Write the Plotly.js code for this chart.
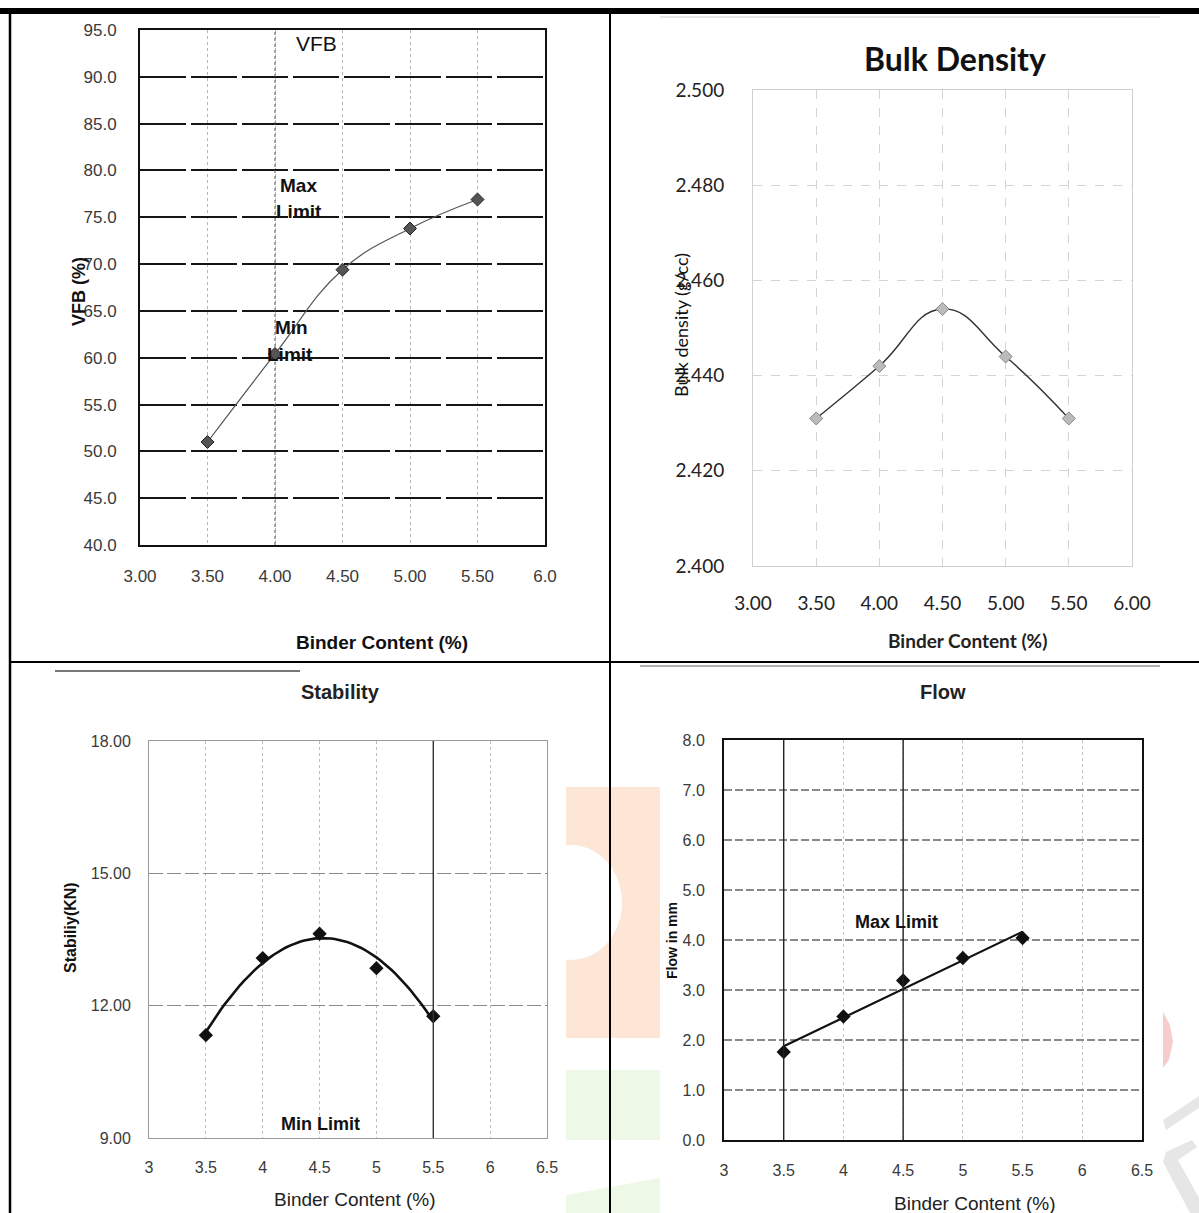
<!DOCTYPE html>
<html>
<head>
<meta charset="utf-8">
<script src="https://cdn.plot.ly/plotly-3.0.1.min.js"></script>
<style>
  html, body { margin: 0; padding: 0; background: #ffffff; }
  #chart { width: 1199px; height: 1213px; }
</style>
</head>
<body>
<div id="chart"></div>
<script>
// ---------------- data ----------------
const binderContent = [3.5, 4.0, 4.5, 5.0, 5.5];
const vfbValues = [51.0, 60.4, 69.4, 73.8, 76.9];
const bulkDensityValues = [2.431, 2.442, 2.454, 2.444, 2.431];
const stabilityValues = [11.33, 13.08, 13.63, 12.85, 11.76];
const flowValues = [1.76, 2.47, 3.19, 3.64, 4.04];

const vfbXTicks = [3.0, 3.5, 4.0, 4.5, 5.0, 5.5, 6.0];
const vfbXTickText = ["3.00", "3.50", "4.00", "4.50", "5.00", "5.50", "6.0"];
const bulkXTicks = [3.0, 3.5, 4.0, 4.5, 5.0, 5.5, 6.0];
const halfStepTicks = [3, 3.5, 4, 4.5, 5, 5.5, 6, 6.5];

// ---------------- helpers ----------------
const W = 1199, H = 1213;
const PX = p => p / W;
const PY = p => 1 - p / H;

// least-squares polynomial fit (Excel-style trendline from the data points)
function polyfit(xs, ys, deg) {
  const n = deg + 1;
  const A = Array.from({length: n}, () => new Array(n + 1).fill(0));
  for (let i = 0; i < xs.length; i++) {
    for (let r = 0; r < n; r++) {
      for (let c = 0; c < n; c++) A[r][c] += Math.pow(xs[i], r + c);
      A[r][n] += ys[i] * Math.pow(xs[i], r);
    }
  }
  for (let col = 0; col < n; col++) {
    let piv = col;
    for (let r = col + 1; r < n; r++) if (Math.abs(A[r][col]) > Math.abs(A[piv][col])) piv = r;
    [A[col], A[piv]] = [A[piv], A[col]];
    for (let r = 0; r < n; r++) {
      if (r === col) continue;
      const f = A[r][col] / A[col][col];
      for (let c = col; c <= n; c++) A[r][c] -= f * A[col][c];
    }
  }
  return A.map((row, i) => row[n] / row[i]);
}
function trend(xs, ys, deg, steps) {
  const coef = polyfit(xs, ys, deg);
  const x0 = Math.min(...xs), x1 = Math.max(...xs);
  const tx = [], ty = [];
  for (let i = 0; i <= steps; i++) {
    const x = x0 + (x1 - x0) * i / steps;
    tx.push(x);
    ty.push(coef.reduce((s, c, k) => s + c * Math.pow(x, k), 0));
  }
  return {x: tx, y: ty};
}

const ARIAL = "Liberation Sans, Arial, sans-serif";
const CALIBRI = "Lato, Open Sans, sans-serif";

const stabTrend = trend(binderContent, stabilityValues, 2, 60);
const flowTrend = trend(binderContent, flowValues, 1, 2);

// ---------------- traces ----------------
const traces = [
  { // VFB
    x: binderContent, y: vfbValues, xaxis: 'x', yaxis: 'y',
    type: 'scatter', mode: 'lines+markers',
    line: {shape: 'spline', smoothing: 1.2, color: '#555', width: 1.2},
    marker: {symbol: 'diamond', size: 10, color: '#555', line: {color: '#222', width: 1}},
    hoverinfo: 'skip', showlegend: false
  },
  { // Bulk density
    x: binderContent, y: bulkDensityValues, xaxis: 'x2', yaxis: 'y2',
    type: 'scatter', mode: 'lines+markers',
    line: {shape: 'spline', smoothing: 1.3, color: '#333', width: 1.4},
    marker: {symbol: 'diamond', size: 10, color: '#bbb', line: {color: '#888', width: 1}},
    hoverinfo: 'skip', showlegend: false
  },
  { // Stability trendline
    x: stabTrend.x, y: stabTrend.y, xaxis: 'x3', yaxis: 'y3',
    type: 'scatter', mode: 'lines',
    line: {color: '#111', width: 2.6}, hoverinfo: 'skip', showlegend: false
  },
  { // Stability points
    x: binderContent, y: stabilityValues, xaxis: 'x3', yaxis: 'y3',
    type: 'scatter', mode: 'markers',
    marker: {symbol: 'diamond', size: 11, color: '#111'},
    hoverinfo: 'skip', showlegend: false
  },
  { // Flow trendline
    x: flowTrend.x, y: flowTrend.y, xaxis: 'x4', yaxis: 'y4',
    type: 'scatter', mode: 'lines',
    line: {color: '#111', width: 2.2}, hoverinfo: 'skip', showlegend: false
  },
  { // Flow points
    x: binderContent, y: flowValues, xaxis: 'x4', yaxis: 'y4',
    type: 'scatter', mode: 'markers',
    marker: {symbol: 'diamond', size: 11, color: '#111'},
    hoverinfo: 'skip', showlegend: false
  }
];

// ---------------- axes ----------------
function ax(opts) {
  return Object.assign({
    showgrid: true, zeroline: false, ticks: '', fixedrange: true,
    showline: true, mirror: true, automargin: false
  }, opts);
}

const layout = {
  width: W, height: H,
  margin: {l: 0, r: 0, t: 0, b: 0},
  paper_bgcolor: '#ffffff', plot_bgcolor: 'rgba(0,0,0,0)',
  showlegend: false,
  // VFB
  xaxis: ax({domain: [PX(140), PX(545)], anchor: 'y', range: [3, 6],
    tickvals: vfbXTicks, ticktext: vfbXTickText,
    gridcolor: '#b5b5b5', griddash: 'dot', gridwidth: 1,
    linecolor: '#111', linewidth: 2,
    tickfont: {family: ARIAL, size: 17, color: '#3a3a3a'}, ticklabelstandoff: 15}),
  yaxis: ax({domain: [PY(545), PY(30)], anchor: 'x', range: [40, 95], dtick: 5, tick0: 40,
    tickformat: '.1f',
    gridcolor: '#151515', griddash: '46px,5px', gridwidth: 2,
    linecolor: '#111', linewidth: 2,
    tickfont: {family: ARIAL, size: 17, color: '#3a3a3a'}, ticklabelstandoff: 18}),
  // Bulk density
  xaxis2: ax({domain: [PX(753), PX(1132)], anchor: 'y2', range: [3, 6],
    tickvals: bulkXTicks, tickformat: '.2f',
    gridcolor: '#d4d4d4', griddash: 'dash', gridwidth: 1,
    linecolor: '#d0d0d0', linewidth: 1,
    tickfont: {family: CALIBRI, size: 19, color: '#222'}, ticklabelstandoff: 20}),
  yaxis2: ax({domain: [PY(566), PY(90)], anchor: 'x2', range: [2.4, 2.5], dtick: 0.02, tick0: 2.4,
    tickformat: '.3f',
    gridcolor: '#d4d4d4', griddash: 'dash', gridwidth: 1,
    linecolor: '#d0d0d0', linewidth: 1,
    tickfont: {family: CALIBRI, size: 19, color: '#222'}, ticklabelstandoff: 24}),
  // Stability
  xaxis3: ax({domain: [PX(149), PX(547)], anchor: 'y3', range: [3, 6.5],
    tickvals: halfStepTicks,
    gridcolor: '#bdbdbd', griddash: 'dot', gridwidth: 1,
    linecolor: '#9a9a9a', linewidth: 1,
    tickfont: {family: ARIAL, size: 16, color: '#3a3a3a'}, ticklabelstandoff: 15}),
  yaxis3: ax({domain: [PY(1138), PY(741)], anchor: 'x3', range: [9, 18], dtick: 3, tick0: 9,
    tickformat: '.2f',
    gridcolor: '#8a8a8a', griddash: '14px,4px', gridwidth: 1.3,
    linecolor: '#9a9a9a', linewidth: 1,
    tickfont: {family: ARIAL, size: 16, color: '#3a3a3a'}, ticklabelstandoff: 14}),
  // Flow
  xaxis4: ax({domain: [PX(724), PX(1142)], anchor: 'y4', range: [3, 6.5],
    tickvals: halfStepTicks,
    gridcolor: '#c4c4c4', griddash: 'dot', gridwidth: 1,
    linecolor: '#111', linewidth: 2,
    tickfont: {family: ARIAL, size: 16, color: '#3a3a3a'}, ticklabelstandoff: 15}),
  yaxis4: ax({domain: [PY(1140), PY(740)], anchor: 'x4', range: [0, 8], dtick: 1, tick0: 0,
    tickformat: '.1f',
    gridcolor: '#8a8a8a', griddash: '8px,3px', gridwidth: 1.2,
    linecolor: '#111', linewidth: 2,
    tickfont: {family: ARIAL, size: 16, color: '#3a3a3a'}, ticklabelstandoff: 14}),
  shapes: [],
  annotations: []
};

// darker vertical gridlines present in the scans
layout.shapes.push(
  {type: 'line', xref: 'x', yref: 'y', x0: 4.0, x1: 4.0, y0: 40, y1: 95, line: {color: '#555', width: 1, dash: 'dot'}},
  {type: 'line', xref: 'x3', yref: 'y3', x0: 5.5, x1: 5.5, y0: 9, y1: 18, line: {color: '#333', width: 1.4}},
  {type: 'line', xref: 'x4', yref: 'y4', x0: 3.5, x1: 3.5, y0: 0, y1: 8, line: {color: '#222', width: 1.4}},
  {type: 'line', xref: 'x4', yref: 'y4', x0: 4.5, x1: 4.5, y0: 0, y1: 8, line: {color: '#222', width: 1.4}}
);

// page/table frame
function pline(x0, y0, x1, y1, w, c) {
  return {type: 'line', xref: 'paper', yref: 'paper', x0: PX(x0), x1: PX(x1), y0: PY(y0), y1: PY(y1),
          line: {color: c || '#000', width: w}};
}
function prect(x0, y0, x1, y1, fill) {
  return {type: 'rect', xref: 'paper', yref: 'paper', x0: PX(x0), x1: PX(x1), y0: PY(y1), y1: PY(y0),
          fillcolor: fill, line: {width: 0}, layer: 'below'};
}
function ppath(pts, fill) {
  const d = pts.map((p, i) => (i ? 'L' : 'M') + PX(p[0]).toFixed(5) + ',' + PY(p[1]).toFixed(5)).join(' ') + ' Z';
  return {type: 'path', xref: 'paper', yref: 'paper', path: d, fillcolor: fill, line: {width: 0}, layer: 'below'};
}

// watermark traces (faint)
layout.shapes.push(
  prect(566, 787, 660, 1038, '#fde6d6'),
  {type: 'circle', xref: 'paper', yref: 'paper', x0: PX(520), x1: PX(622), y0: PY(960), y1: PY(845),
   fillcolor: '#ffffff', line: {width: 0}, layer: 'below'},
  prect(566, 1070, 660, 1140, '#eef8e6'),
  ppath([[566, 1195], [660, 1178], [660, 1213], [566, 1213]], '#eef8e6'),
  ppath([[1163, 1012], [1170, 1025], [1173, 1042], [1169, 1060], [1163, 1068]], '#f6cccc'),
  ppath([[1163, 1120], [1199, 1096], [1199, 1108], [1166, 1130]], '#e6e6e6'),
  ppath([[1166, 1152], [1192, 1140], [1197, 1147], [1178, 1160], [1199, 1198], [1199, 1213], [1190, 1213], [1163, 1162]], '#e6e6e6')
);

layout.shapes.push(
  prect(0, 8, 1199, 14, '#000'),
  pline(10, 14, 10, 1213, 2.5),
  pline(610, 14, 610, 1213, 2),
  pline(10, 662, 1199, 662, 2),
  pline(55, 671, 300, 671, 2, '#777'),
  pline(640, 666, 1160, 666, 1.5, '#999'),
  pline(660, 17, 1160, 17, 1, '#ccc')
);

// ---------------- text ----------------
function note(text, x, y, size, opts) {
  return Object.assign({
    text: text, xref: 'paper', yref: 'paper', x: PX(x), y: PY(y),
    xanchor: 'center', yanchor: 'middle', showarrow: false,
    font: {family: ARIAL, size: size, color: '#111'}
  }, opts || {});
}

layout.annotations.push(
  // VFB
  note('VFB', 316, 44, 21),
  note('<b>Max</b>', 298, 186, 19),
  note('<b>Limit</b>', 299, 212, 19),
  note('<b>Min</b>', 291, 328, 19),
  note('<b>Limit</b>', 290, 354, 19),
  note('<b>VFB (%)</b>', 79, 292, 18, {textangle: -90}),
  note('<b>Binder Content (%)</b>', 382, 642, 19),
  // Bulk density
  note('<b>Bulk Density</b>', 955, 58, 32, {font: {family: CALIBRI, size: 32, color: '#111'}}),
  note('Bulk density (g/cc)', 681, 325, 18, {textangle: -90, font: {family: CALIBRI, size: 18, color: '#111'}}),
  note('<b>Binder Content (%)</b>', 967, 640, 19, {font: {family: CALIBRI, size: 19, color: '#222'}}),
  // Stability
  note('<b>Stability</b>', 340, 692, 20, {font: {family: ARIAL, size: 20, color: '#222'}}),
  note('<b>Stabiliy(KN)</b>', 70, 928, 16, {textangle: -90}),
  note('<b>Min Limit</b>', 320, 1124, 18),
  note('Binder Content (%)', 355, 1199, 19, {font: {family: ARIAL, size: 19, color: '#222'}}),
  // Flow
  note('<b>Flow</b>', 943, 692, 20, {font: {family: ARIAL, size: 20, color: '#222'}}),
  note('<b>Flow in mm</b>', 672, 940, 14, {textangle: -90}),
  note('<b>Max Limit</b>', 896, 922, 18),
  note('Binder Content (%)', 975, 1203, 19, {font: {family: ARIAL, size: 19, color: '#222'}})
);

Plotly.newPlot('chart', traces, layout, {staticPlot: true, displayModeBar: false});
</script>
</body>
</html>
